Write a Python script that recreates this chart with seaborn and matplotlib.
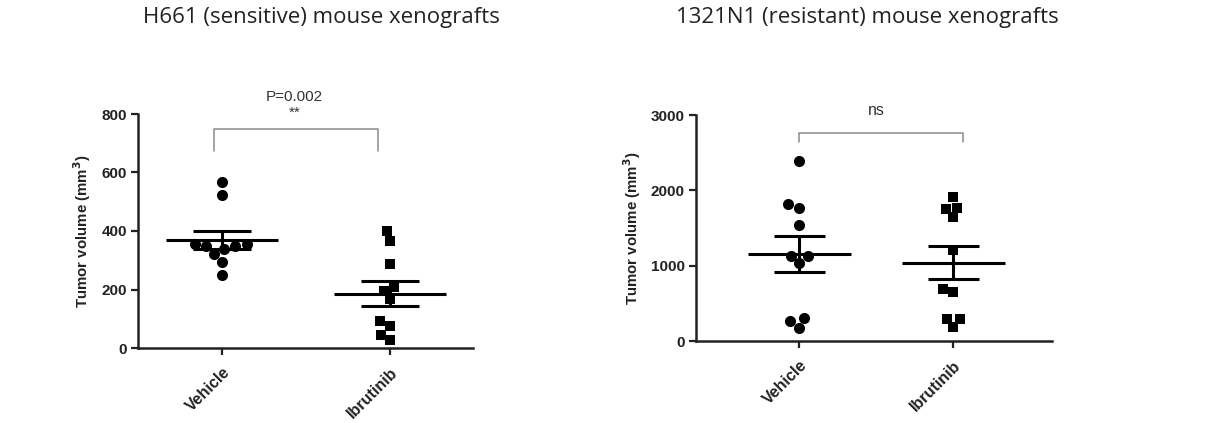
import numpy as np
import pandas as pd
import matplotlib
matplotlib.use("Agg")
import matplotlib.pyplot as plt
import seaborn as sns

# ---------------- data ----------------
groups = ["Vehicle", "Ibrutinib"]

h661_vehicle = [569, 523, 354, 349, 337, 320, 293, 349, 354, 251]
h661_ibrutinib = [400, 366, 288, 209, 195, 166, 91, 75, 46, 26]

n1321_vehicle = [2388, 1812, 1772, 1537, 1134, 1134, 1032, 306, 261, 173]
n1321_ibrutinib = [1914, 1746, 1772, 1644, 1205, 687, 651, 297, 297, 186]

titles = ["H661 (sensitive) mouse xenografts", "1321N1 (resistant) mouse xenografts"]
y_ticks_left = [0, 200, 400, 600, 800]
y_ticks_right = [0, 1000, 2000, 3000]
annot_left = ["P=0.002", "**"]
annot_right = ["ns"]

# ---------------- style ----------------
sns.set_theme(style="ticks")
plt.rcParams["font.family"] = ["Liberation Sans", "DejaVu Sans"]

W, H = 1231, 423
fig = plt.figure(figsize=(W / 100, H / 100), dpi=100)
fig.patch.set_facecolor("white")


def px_axes(x0, x1, ytop, ybot):
    return fig.add_axes([x0 / W, 1 - ybot / H, (x1 - x0) / W, (ybot - ytop) / H])


ax1 = px_axes(138, 473, 114, 348)
ax2 = px_axes(696, 1052, 115, 341)


def draw_panel(ax, veh, ibr, yticks, xlim, mean_half, cap_half):
    ax.set_xlim(*xlim)
    ax.set_ylim(yticks[0], yticks[-1])
    dv = pd.DataFrame({"group": "Vehicle", "vol": veh})
    di = pd.DataFrame({"group": "Ibrutinib", "vol": ibr})
    sns.swarmplot(data=dv, x="group", y="vol", order=groups, marker="o",
                  color="black", size=8.0, ax=ax, zorder=3)
    sns.swarmplot(data=di, x="group", y="vol", order=groups, marker="s",
                  color="black", size=7.4, ax=ax, zorder=3)
    for i, vals in enumerate([veh, ibr]):
        v = np.asarray(vals, dtype=float)
        m = v.mean()
        sem = v.std(ddof=1) / np.sqrt(len(v))
        ax.hlines(m, i - mean_half, i + mean_half, color="black", lw=2.2, zorder=4)
        ax.hlines([m - sem, m + sem], i - cap_half, i + cap_half, color="black", lw=2.2, zorder=4)
        ax.vlines(i, m - sem, m + sem, color="black", lw=2.2, zorder=4)
    ax.set_xlim(*xlim)
    ax.set_ylim(yticks[0], yticks[-1])
    ax.set_yticks(yticks)
    ax.set_xticks([0, 1])
    ax.set_xticklabels(groups, rotation=45, ha="right", rotation_mode="anchor",
                       fontsize=11.5, fontweight="bold", color="#222222")
    for lab in ax.get_yticklabels():
        lab.set_fontweight("bold")
        lab.set_fontsize(11)
        lab.set_color("#222222")
    ax.set_xlabel("")
    ax.set_ylabel("Tumor volume (mm$^\\mathbf{3}$)", fontsize=10.8, fontweight="bold",
                  color="#222222", labelpad=6)
    sns.despine(ax=ax)
    for sp in ["left", "bottom"]:
        ax.spines[sp].set_linewidth(1.8)
        ax.spines[sp].set_color("#222222")
    ax.tick_params(axis="y", width=1.6, length=5, color="#222222", pad=3)
    ax.tick_params(axis="x", width=1.6, length=5, color="#222222", pad=7)
    ax.set_facecolor("none")


draw_panel(ax1, h661_vehicle, h661_ibrutinib, y_ticks_left, (-0.5, 1.494), 0.333, 0.17)
draw_panel(ax2, n1321_vehicle, n1321_ibrutinib, y_ticks_right, (-0.67, 1.64), 0.333, 0.166)

# significance brackets
ax1.plot([-0.05, -0.05, 0.93, 0.93], [673, 749, 749, 673], color="#8a8a8a", lw=1.1, clip_on=False)
ax1.text(0.43, 1.073, annot_left[0], transform=ax1.get_xaxis_transform(), ha="center",
         va="center", fontsize=11, color="#333333")
ax1.text(0.43, 1.004, annot_left[1], transform=ax1.get_xaxis_transform(), ha="center",
         va="center", fontsize=11, color="#333333")

ax2.plot([0.0, 0.0, 1.065, 1.065], [2641, 2761, 2761, 2641], color="#8a8a8a", lw=1.1, clip_on=False)
ax2.text(0.5, 3060, annot_right[0], ha="center", va="center", fontsize=11.5, color="#333333")

# titles
fig.text(321 / W, 1 - 18 / H, titles[0], ha="center", va="center", fontsize=16,
         family=["Open Sans", "DejaVu Sans"], color="#222222")
fig.text(867 / W, 1 - 18 / H, titles[1], ha="center", va="center", fontsize=16,
         family=["Open Sans", "DejaVu Sans"], color="#222222")

fig.savefig("out.png", dpi=100, facecolor="white")
